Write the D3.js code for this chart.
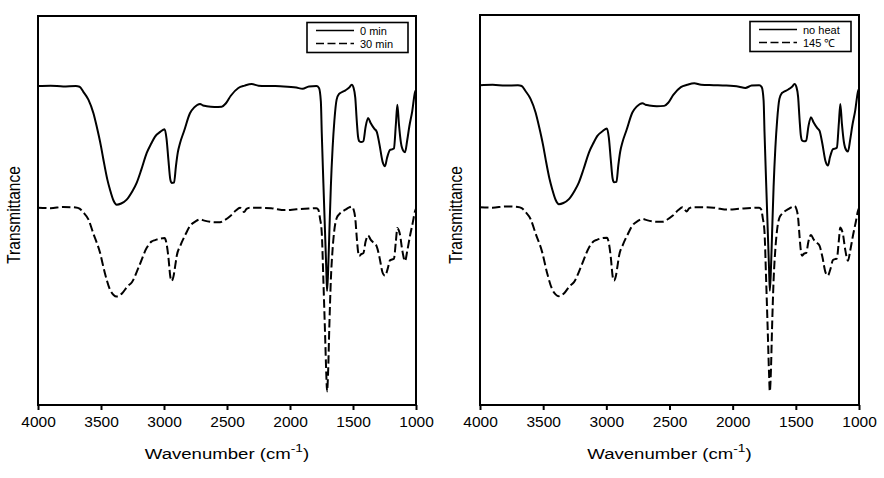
<!DOCTYPE html>
<html>
<head>
<meta charset="utf-8">
<script src="https://cdn.jsdelivr.net/npm/d3@7"></script>
<style>
  html, body { margin: 0; padding: 0; background: #fff; }
  svg { display: block; font-family: Arial, "Liberation Sans", sans-serif; }
</style>
</head>
<body>
<svg id="chart" width="884" height="478"></svg>
<script>
// ---- data (wavenumber cm-1, relative transmittance, arbitrary units) ----
const xTicks = [4000, 3500, 3000, 2500, 2000, 1500, 1000];

const solidWn = [4000,3900,3800,3700,3670,3640,3600,3560,3534,3500,3481,3450,3429,3400,3376,3340,3296,3250,3217,3180,3137,3100,3071,3030,2995,2980,2965,2950,2939,2920,2905,2890,2873,2840,2794,2760,2714,2690,2661,2600,2542,2510,2470,2410,2360,2304,2250,2150,2050,1950,1900,1850,1790,1770,1755,1748,1735,1722,1712,1706,1698,1688,1676,1662,1648,1630,1610,1590,1560,1530,1510,1495,1482,1470,1460,1450,1435,1418,1400,1380,1360,1330,1312,1290,1265,1246,1230,1206,1185,1175,1160,1148,1135,1120,1100,1087,1070,1053,1030,1008,1000];
const solidT  = [82,82.1,81.9,82,81.8,80.5,78.5,75,71.6,66.5,63.1,58,55.4,52.5,51.5,51.8,52.8,55,57.1,60.5,64.8,67.3,69,70.2,70.9,68.5,63,58,57.1,57.2,61.5,65,67.3,70.5,75,76.5,77.4,77,76.8,76.6,76.7,77.5,79.5,81.5,82.1,82.5,82.1,82,81.9,81.6,81.3,81.9,82,81.5,78,70,57,44.4,35,29.3,34,44,56,66,73,78.5,80,80.4,80.9,81.6,82.3,81.5,79,73,69,67.8,67.6,67.8,71.5,73.8,72.5,71,70.3,67,62.5,61.4,63.5,65.6,65.8,66,72,77.2,72,67.5,65.3,65,68,71.6,75.5,80.4,81];

const dashWn = [4000,3900,3800,3700,3670,3640,3600,3560,3508,3470,3429,3400,3376,3330,3290,3256,3200,3137,3100,3071,3030,2995,2980,2965,2950,2939,2925,2910,2899,2870,2830,2794,2750,2714,2680,2600,2555,2520,2476,2430,2397,2380,2365,2345,2318,2250,2150,2100,2050,1950,1850,1790,1775,1762,1748,1735,1722,1712,1706,1698,1688,1676,1662,1648,1630,1610,1590,1560,1530,1510,1495,1482,1470,1460,1450,1435,1418,1400,1380,1360,1330,1312,1290,1265,1246,1225,1206,1190,1175,1160,1148,1138,1127,1110,1087,1070,1048,1025,1008,1000];
const dashT  = [50.7,50.6,50.9,50.8,50.5,49.5,47.7,44,39.2,34,29.7,28.3,27.9,28.8,30.5,31.5,35.5,40.4,42,42.4,42.8,42.9,41.5,38,33,31.9,33,36,38.3,41,43.8,46,47.2,47.7,47.4,47,47,47.5,48.5,50,50.7,50.2,49.6,50.4,50.7,50.7,50.6,50.3,50.1,50.3,50.5,50.6,50.2,48,44.3,32,18.6,8,3.5,8,20,32,40,45,48,49,49.6,50.2,50.8,51,50.2,48,43,39.5,38.3,38.8,39,42,43.6,42.5,41.5,40.8,38,34,33.2,35,37.2,37.4,37.6,42,45.5,45,43.8,40,37,39.5,43.4,47,49.8,50.5];

const panels = [
  { left: 38,  right: 416, top: 16, bottom: 405, labels: ["0 min", "30 min"],
    series: [[solidWn, solidT], [dashWn, dashT]] },
  { left: 480, right: 859, top: 15, bottom: 405, labels: ["no heat", "145 \u2103"],
    series: [[solidWn, solidT], [dashWn, dashT]] }
];

const svg = d3.select("#chart");

panels.forEach(p => {
  const g = svg.append("g");
  const x = d3.scaleLinear().domain([4000, 1000]).range([p.left, p.right]);
  const y = d3.scaleLinear().domain([0, 100]).range([p.bottom, p.top]);

  // curves
  const line = d3.line().x(d => x(d[0])).y(d => y(d[1])).curve(d3.curveMonotoneX);
  p.series.forEach((s, i) => {
    const pts = s[0].map((w, k) => [w, s[1][k]]);
    g.append("path")
      .attr("d", line(pts))
      .attr("fill", "none")
      .attr("stroke", "#000")
      .attr("stroke-width", 2)
      .attr("stroke-linejoin", "round")
      .attr("stroke-dasharray", i === 1 ? "8.5,3.5" : null);
  });

  // frame
  g.append("rect")
    .attr("x", p.left).attr("y", p.top)
    .attr("width", p.right - p.left).attr("height", p.bottom - p.top)
    .attr("fill", "none").attr("stroke", "#000").attr("stroke-width", 2);

  // x axis
  const ax = g.append("g")
    .attr("transform", `translate(0,${p.bottom})`)
    .call(d3.axisBottom(x).tickValues(xTicks).tickFormat(d3.format("d")).tickSize(5).tickPadding(6));
  ax.select(".domain").remove();
  ax.selectAll(".tick line").attr("stroke", "#000").attr("stroke-width", 2);
  ax.selectAll(".tick text")
    .attr("fill", "#000")
    .style("font-size", "15.5px")
    .style("font-family", "Arial, 'Liberation Sans', sans-serif");

  // x title
  const cx = (p.left + p.right) / 2;
  const tt = g.append("text")
    .attr("transform", `translate(${cx},459) scale(1.2,1)`)
    .attr("text-anchor", "middle")
    .style("font-size", "15.5px")
    .attr("fill", "#000");
  tt.append("tspan").text("Wavenumber (cm");
  tt.append("tspan").attr("dy", -7).style("font-size", "11.5px").text("-1");
  tt.append("tspan").attr("dy", 7).text(")");

  // y title
  g.append("text")
    .attr("transform", `translate(${p.left - 18},215) rotate(-90) scale(1,1.15)`)
    .attr("text-anchor", "middle")
    .style("font-size", "15.5px")
    .attr("fill", "#000")
    .text("Transmittance");

  // legend
  const lx = p.right - 109, ly = p.top + 6.5;
  const lg = g.append("g");
  lg.append("rect")
    .attr("x", lx).attr("y", ly).attr("width", 101).attr("height", 30)
    .attr("fill", "#fff").attr("stroke", "#000").attr("stroke-width", 1.6);
  p.labels.forEach((lab, i) => {
    const yy = ly + 8 + i * 13;
    lg.append("line")
      .attr("x1", lx + 9).attr("x2", lx + 47)
      .attr("y1", yy).attr("y2", yy)
      .attr("stroke", "#000").attr("stroke-width", 1.6)
      .attr("stroke-dasharray", i === 1 ? "8,3.5" : null);
    lg.append("text")
      .attr("x", lx + 53).attr("y", yy + 4)
      .attr("text-anchor", "start")
      .style("font-size", "11px")
      .attr("fill", "#000")
      .text(lab);
  });
});
</script>
</body>
</html>
